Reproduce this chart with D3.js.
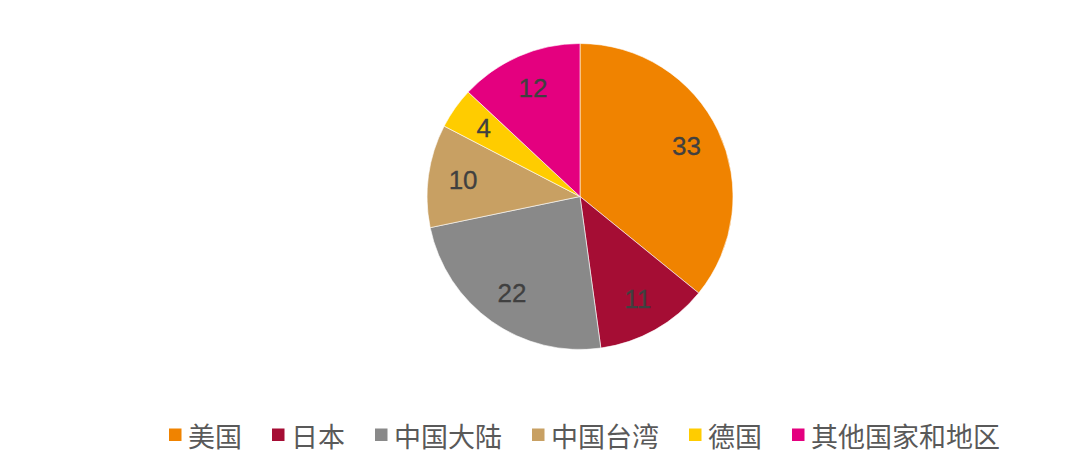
<!DOCTYPE html>
<html><head><meta charset="utf-8">
<script src="https://cdn.jsdelivr.net/npm/d3@7"></script>
<style>html,body{margin:0;padding:0;background:#fff;}svg{display:block;}</style>
</head><body>
<svg id="chart" width="1080" height="470"></svg>
<script>
const categories = ["美国", "日本", "中国大陆", "中国台湾", "德国", "其他国家和地区"];
const values = [33, 11, 22, 10, 4, 12];
const colors = ["#F08300", "#A50D34", "#898989", "#C8A063", "#FFCC00", "#E4007F"];

const svg = d3.select("#chart");
const cx = 580, cy = 196.5, R = 153;
const data = categories.map((c, i) => ({cat: c, value: values[i], color: colors[i]}));
const pie = d3.pie().value(d => d.value).sort(null);
const arcs = pie(data);
const arc = d3.arc().innerRadius(0).outerRadius(R);
const labelArc = d3.arc().innerRadius(118).outerRadius(118);

const g = svg.append("g").attr("transform", `translate(${cx},${cy})`);
g.selectAll("path").data(arcs).join("path")
  .attr("d", arc).attr("fill", d => d.data.color)
  .attr("stroke", "#fff").attr("stroke-width", 0.6);
g.selectAll("text").data(arcs).join("text")
  .attr("x", d => labelArc.centroid(d)[0])
  .attr("y", d => labelArc.centroid(d)[1])
  .attr("text-anchor", "middle").attr("dominant-baseline", "central")
  .attr("font-family", "Liberation Sans, Arial, sans-serif")
  .attr("font-size", 26).attr("fill", "#404040")
  .attr("stroke", "#404040").attr("stroke-width", 0.3)
  .text(d => d.data.value);

// legend
const legend = svg.append("g");
const fontSize = 27;
let x = 169;
const ly = 435;
const measure = svg.append("text").attr("font-family", "Noto Sans CJK SC, sans-serif").attr("font-size", fontSize);
data.forEach(d => {
  measure.text(d.cat);
  const w = measure.node().getComputedTextLength();
  legend.append("rect").attr("x", x).attr("y", ly - 6.5).attr("width", 12.5).attr("height", 12.5).attr("fill", d.color);
  legend.append("text").attr("x", x + 19).attr("y", ly)
    .attr("dominant-baseline", "central")
    .attr("font-family", "Noto Sans CJK SC, sans-serif")
    .attr("font-size", fontSize).attr("fill", "#595959").text(d.cat);
  x += 19 + w + 30;
});
measure.remove();
</script>
</body></html>
